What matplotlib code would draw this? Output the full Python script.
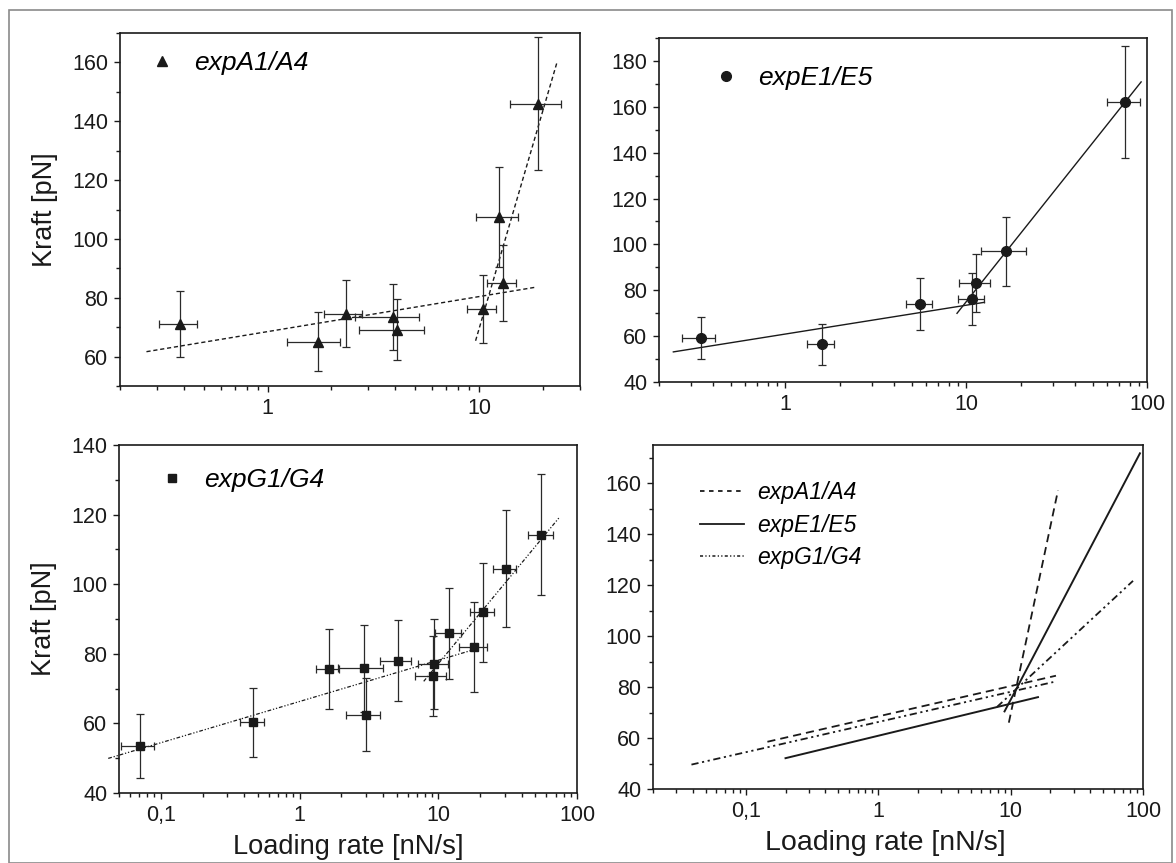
import numpy as np
import matplotlib
matplotlib.use('Agg')
import matplotlib.pyplot as plt
from matplotlib.ticker import LogLocator, FuncFormatter, MultipleLocator, NullFormatter
from matplotlib.patches import Rectangle
from matplotlib.lines import Line2D

plt.rcParams['font.family'] = ['Liberation Sans', 'DejaVu Sans']

# expA1/A4
a_x = [0.384, 1.73, 2.34, 3.92, 4.10, 10.4, 12.5, 13.0, 19.1]
a_xlo = [0.305, 1.24, 1.84, 2.60, 2.70, 8.76, 9.65, 10.9, 14.0]
a_xhi = [0.463, 2.21, 2.80, 5.22, 5.47, 12.1, 15.3, 15.0, 24.4]
a_f = [71.1, 65.1, 74.5, 73.6, 69.2, 76.1, 107.4, 85.1, 146.0]
a_ferr = [11.2, 9.9, 11.4, 11.2, 10.5, 11.6, 17.1, 13.0, 22.6]

# expE1/E5
e_x = [0.340, 1.59, 5.55, 10.7, 11.3, 16.6, 75.8]
e_xlo = [0.268, 1.31, 4.67, 9.0, 9.08, 12.0, 60.4]
e_xhi = [0.410, 1.86, 6.49, 12.6, 13.5, 21.4, 91.5]
e_f = [59.0, 56.5, 74.1, 76.2, 83.0, 96.9, 162.1]
e_ferr = [9.2, 8.9, 11.4, 11.5, 12.7, 14.9, 24.6]

# expG1/G4
g_x = [0.0708, 0.460, 1.63, 2.90, 3.0, 5.13, 9.27, 9.12, 12.0, 18.2, 21.0, 30.5, 55.2]
g_xlo = [0.0516, 0.373, 1.31, 1.88, 2.17, 3.82, 7.11, 6.76, 9.42, 14.0, 17.0, 24.9, 44.4]
g_xhi = [0.0899, 0.550, 1.94, 3.99, 3.78, 6.36, 11.8, 11.4, 14.6, 22.5, 25.4, 36.6, 67.3]
g_f = [53.6, 60.3, 75.6, 75.9, 62.5, 78.0, 77.0, 73.6, 85.9, 82.0, 91.9, 104.4, 114.2]
g_ferr = [9.2, 10.0, 11.5, 12.5, 10.5, 11.7, 13.0, 11.5, 13.0, 13.0, 14.3, 16.8, 17.4]

# fits F = a + b*log10(r): (a, b)
a_fit_low, a_fit_high = (68.5, 11.9), (-176.4, 245.7)
e_fit_low, e_fit_high = (60.9, 12.57), (-24.1, 99.1)
g_fit_low, g_fit_high = (66.3, 11.86), (28.96, 48.2)

# fit ranges in single panels and in the comparison panel
a_rng = [(0.267, 18.6), (9.64, 23.4)]
e_rng = [(0.24, 12.6), (8.89, 92.7)]
g_rng = [(0.0418, 18.2), (7.85, 75.2)]
a_rng_cmp = [(0.146, 22.0), (9.7, 22.8)]
e_rng_cmp = [(0.20, 16.1), (9.0, 94.7)]
g_rng_cmp = [(0.039, 21.0), (7.9, 84.0)]

names = ['expA1/A4', 'expE1/E5', 'expG1/G4']

ink = '#1a1a1a'
dash_a = (3, 2)
dash_g = (3, 1.5, 1, 1.5, 1, 1.5)


def fmt(v, pos):
    if v >= 1:
        return '%d' % round(v)
    return ('%g' % v).replace('.', ',')


def style(ax, xlim, ylim, ymajor):
    ax.set_xscale('log')
    ax.set_xlim(*xlim)
    ax.set_ylim(*ylim)
    ax.xaxis.set_major_locator(LogLocator(base=10, numticks=10))
    ax.xaxis.set_minor_locator(LogLocator(base=10, subs=np.arange(2, 10), numticks=20))
    ax.xaxis.set_major_formatter(FuncFormatter(fmt))
    ax.xaxis.set_minor_formatter(NullFormatter())
    ax.yaxis.set_major_locator(MultipleLocator(ymajor))
    ax.yaxis.set_minor_locator(MultipleLocator(ymajor / 2))
    ax.tick_params(which='both', direction='out', colors=ink, labelsize=15.5, width=1.0)
    ax.tick_params(which='major', length=4.5, pad=4)
    ax.tick_params(which='minor', length=3)
    ax.tick_params(axis='x', which='major', pad=4)
    for s in ax.spines.values():
        s.set_linewidth(1.2)
        s.set_color(ink)


def fitline(ax, coef, rng, **kw):
    r = np.array(rng)
    ax.plot(r, coef[0] + coef[1] * np.log10(r), color=ink, **kw)


def points(ax, x, xlo, xhi, f, ferr, marker, ms, label, lpos):
    x = np.array(x)
    xerr = [x - np.array(xlo), np.array(xhi) - x]
    ax.errorbar(x, f, yerr=ferr, xerr=xerr, fmt='none', ecolor='#2a2a2a',
                elinewidth=0.9, capsize=3, capthick=0.9, zorder=2)
    ax.plot(x, f, marker, color=ink, ms=ms, zorder=3, label=label)
    ax.legend(loc='center left', bbox_to_anchor=lpos, frameon=False,
              prop={'style': 'italic', 'size': 19}, handlelength=1.0,
              handletextpad=0.7, borderaxespad=0, borderpad=0, numpoints=1)


fig = plt.figure(figsize=(11.76, 8.63), dpi=100)
fig.patches.append(Rectangle((9 / 1176, 0.0), 1163 / 1176, 853 / 863,
                             transform=fig.transFigure, fill=False,
                             edgecolor='#8a8a8a', lw=1.2))

ax1 = fig.add_axes([0.102, 0.5527, 0.391, 0.409])
ax2 = fig.add_axes([0.5604, 0.5574, 0.415, 0.3986])
ax3 = fig.add_axes([0.1012, 0.0811, 0.3895, 0.4032])
ax4 = fig.add_axes([0.5553, 0.0857, 0.4167, 0.3986])

# panel A
style(ax1, (0.2, 30), (50, 170), 20)
fitline(ax1, a_fit_low, a_rng[0], lw=1.0, dashes=dash_a)
fitline(ax1, a_fit_high, a_rng[1], lw=1.0, dashes=dash_a)
points(ax1, a_x, a_xlo, a_xhi, a_f, a_ferr, '^', 7.5, names[0], (0.063, 0.915))
ax1.set_ylabel('Kraft [pN]', fontsize=19.5, color=ink, labelpad=10)

# panel E
style(ax2, (0.2, 100), (40, 190), 20)
fitline(ax2, e_fit_low, e_rng[0], lw=1.0)
fitline(ax2, e_fit_high, e_rng[1], lw=1.0)
points(ax2, e_x, e_xlo, e_xhi, e_f, e_ferr, 'o', 7, names[1], (0.111, 0.884))

# panel G
style(ax3, (0.05, 100), (40, 140), 20)
fitline(ax3, g_fit_low, g_rng[0], lw=0.9, dashes=dash_g, clip_on=False)
fitline(ax3, g_fit_high, g_rng[1], lw=0.9, dashes=dash_g)
points(ax3, g_x, g_xlo, g_xhi, g_f, g_ferr, 's', 6, names[2], (0.087, 0.899))
ax3.set_ylabel('Kraft [pN]', fontsize=19.5, color=ink, labelpad=10)
ax3.set_xlabel('Loading rate [nN/s]', fontsize=19.6, color=ink, labelpad=6)

# comparison panel
style(ax4, (0.02, 100), (40, 175), 20)
fitline(ax4, a_fit_low, a_rng_cmp[0], lw=1.3, dashes=(4.5, 2.8))
fitline(ax4, a_fit_high, a_rng_cmp[1], lw=1.3, dashes=(4.5, 2.8))
fitline(ax4, e_fit_low, e_rng_cmp[0], lw=1.4)
fitline(ax4, e_fit_high, e_rng_cmp[1], lw=1.4)
fitline(ax4, g_fit_low, g_rng_cmp[0], lw=1.3, dashes=(4, 2, 1.2, 2, 1.2, 2))
fitline(ax4, g_fit_high, g_rng_cmp[1], lw=1.3, dashes=(4, 2, 1.2, 2, 1.2, 2))
handles = [Line2D([], [], color=ink, lw=1.3, dashes=(2.5, 2.5)),
           Line2D([], [], color=ink, lw=1.3),
           Line2D([], [], color=ink, lw=1.1, dashes=(2, 1.5, 0.8, 1.5, 0.8, 1.5))]
ax4.legend(handles, names, loc='center left', bbox_to_anchor=(0.096, 0.767),
           frameon=False, prop={'style': 'italic', 'size': 16.5},
           handlelength=1.9, handletextpad=0.6, labelspacing=0.42,
           borderaxespad=0, borderpad=0)
ax4.set_xlabel('Loading rate [nN/s]', fontsize=20.5, color=ink, labelpad=6, x=0.475)

fig.savefig('out.png', dpi=100)
